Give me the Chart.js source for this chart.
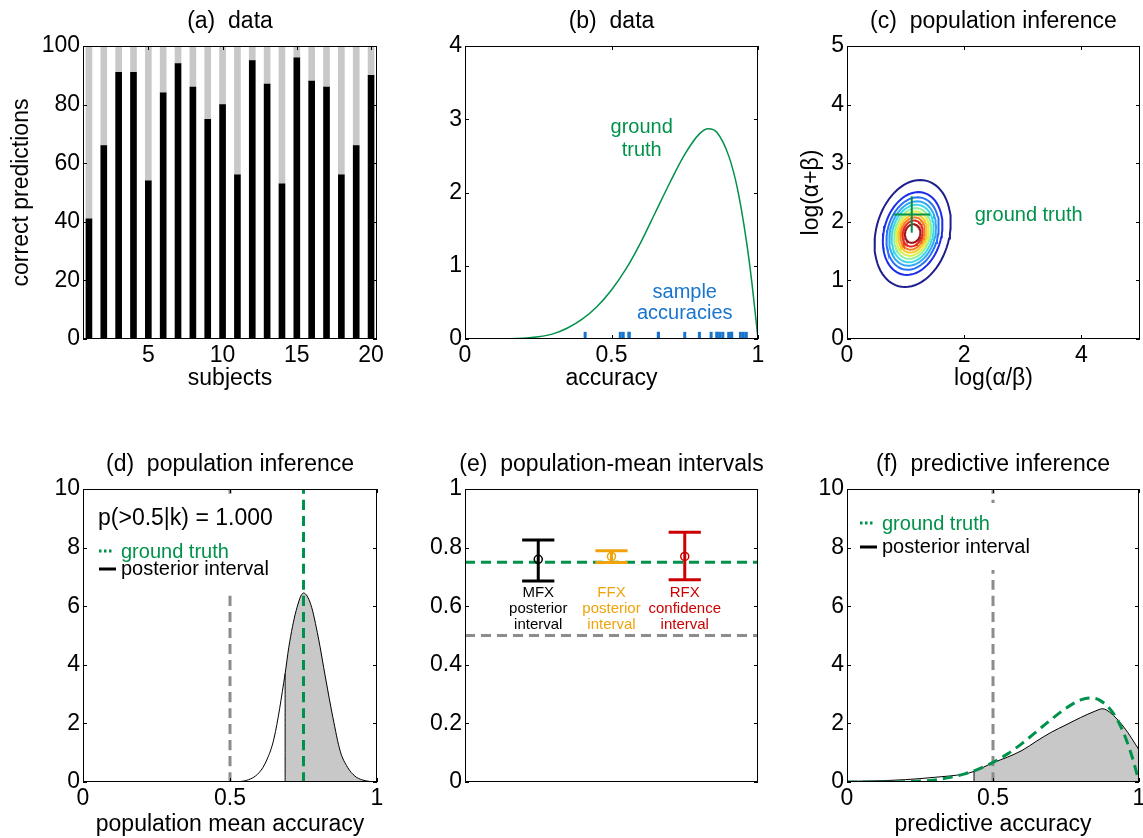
<!DOCTYPE html>
<html>
<head>
<meta charset="utf-8">
<script src="https://cdn.jsdelivr.net/npm/chart.js@4.4.1/dist/chart.umd.min.js"></script>
<style>
  body { margin: 0; background: #fff; }
  .panel { position: absolute; }
</style>
</head>
<body>
<div class="panel" style="left:0;top:0"><canvas id="pa" width="389" height="400"></canvas></div>
<div class="panel" style="left:382px;top:0"><canvas id="pb" width="388" height="400"></canvas></div>
<div class="panel" style="left:764px;top:0"><canvas id="pc" width="379" height="400"></canvas></div>
<div class="panel" style="left:0;top:443px"><canvas id="pd" width="389" height="395"></canvas></div>
<div class="panel" style="left:382px;top:443px"><canvas id="pe" width="388" height="395"></canvas></div>
<div class="panel" style="left:764px;top:443px"><canvas id="pf" width="379" height="395"></canvas></div>
<script>
// ---- data ----
// (a) correct predictions per subject (out of 100 trials)
const subjects = [1, 2, 3, 4, 5, 6, 7, 8, 9, 10, 11, 12, 13, 14, 15, 16, 17, 18, 19, 20];
const correct = [41, 66, 91, 91, 54, 84, 94, 86, 75, 80, 56, 95, 87, 53, 96, 88, 86, 56, 66, 90];
const trials = 100;

// (b) ground-truth density of accuracies
const truthX = [0, 0.1, 0.2, 0.25, 0.3, 0.35, 0.4, 0.45, 0.5, 0.55, 0.6, 0.65, 0.7, 0.75, 0.8, 0.83, 0.86, 0.9, 0.93, 0.96, 0.98, 1];
const truthY = [0, 0, 0.01, 0.03, 0.07, 0.15, 0.27, 0.44, 0.67, 0.96, 1.32, 1.73, 2.14, 2.52, 2.8, 2.87, 2.82, 2.5, 2.05, 1.35, 0.74, 0];

// (c) posterior contours in (log(a/b), log(a+b)) space
const contourCentre = [1.12, 1.8];
const contourTilt = 15; // degrees
const contourRx = [0.625, 0.49, 0.43, 0.385, 0.345, 0.305, 0.27, 0.235, 0.2, 0.165, 0.13];
const contourRy = [0.93, 0.72, 0.63, 0.56, 0.5, 0.44, 0.385, 0.33, 0.28, 0.225, 0.16];
const contourColors = ['#1e1e8c', '#1e2de6', '#2870f5', '#30a8f5', '#3cd8e6', '#8cf0a0', '#dcf04a', '#f5c828', '#f57d1e', '#e6281e', '#a01414'];
const truthPoint = [1.105, 2.125];
const crossHalf = 0.31;

// (d) posterior of the population mean accuracy
const meanX = [0.22, 0.3, 0.4, 0.5, 0.55, 0.6, 0.625, 0.65, 0.6875, 0.7, 0.725, 0.75, 0.775, 0.8, 0.825, 0.85, 0.875, 0.9, 0.925, 0.95, 0.975, 1];
const meanY = [0, 0, 0, 0, 0.04, 0.33, 0.75, 1.5, 3.7, 4.6, 5.85, 6.45, 6.05, 4.95, 3.55, 2.2, 1.05, 0.5, 0.2, 0.07, 0.02, 0];
const meanLower = 0.6875;
const chance = 0.5;
const truthMean = 0.75;

// (e) population-mean intervals
const methodPos = [1, 2, 3];
const methodLabels = [['MFX', 'posterior', 'interval'], ['FFX', 'posterior', 'interval'], ['RFX', 'confidence', 'interval']];
const methodColors = ['#000000', '#f0a30a', '#cc0000'];
const intervalLow = [0.686, 0.749, 0.69];
const intervalHigh = [0.826, 0.789, 0.852];
const intervalMid = [0.76, 0.77, 0.77];

// (f) posterior predictive density
const predX = [0, 0.1, 0.2, 0.3, 0.4, 0.435, 0.5, 0.55, 0.6, 0.65, 0.7, 0.75, 0.8, 0.85, 0.875, 0.9, 0.95, 1];
const predY = [0.02, 0.04, 0.08, 0.16, 0.27, 0.36, 0.66, 0.85, 1.08, 1.4, 1.7, 1.95, 2.2, 2.42, 2.5, 2.38, 1.85, 1.1];
const predLower = 0.435;

// ticks
const ticksA = {x: [5, 10, 15, 20], y: [0, 20, 40, 60, 80, 100]};
const ticksUnit = [0, 0.5, 1];
const ticksB = [0, 1, 2, 3, 4];
const ticksC = {x: [0, 2, 4], y: [0, 1, 2, 3, 4, 5]};
const ticksDens = [0, 2, 4, 6, 8, 10];
const ticksE = [0, 0.2, 0.4, 0.6, 0.8, 1];

// ---- drawing ----
const FONT = '"Liberation Sans", Arial, Helvetica, sans-serif';
const GREEN = '#00914a';
const GREY = '#8c8c8c';
const FILL = '#c8c8c8';
Chart.defaults.font.family = FONT;
Chart.defaults.font.size = 23;
Chart.defaults.color = '#000';
Chart.defaults.animation = false;
Chart.defaults.responsive = false;
Chart.defaults.events = [];
Chart.defaults.plugins.legend.display = false;
Chart.defaults.plugins.tooltip.enabled = false;

const pts = (xs, ys) => xs.map((x, i) => ({x, y: ys[i]}));

function axis(min, max, ticks, size, title, titlePad) {
  const cfg = {
    type: 'linear', min, max, offset: false,
    grid: {display: false, drawTicks: false, offset: false},
    border: {display: false},
    ticks: {display: ticks.length > 0, padding: 3, callback: v => String(v)},
    afterBuildTicks: s => { s.ticks = ticks.map(v => ({value: v})); },
    afterFit: s => {
      if (s.isHorizontal()) s.height = size; else s.width = size;
      s.paddingLeft = s.paddingRight = s.paddingTop = s.paddingBottom = 0;
    }
  };
  if (title) cfg.title = {display: true, text: title, padding: titlePad};
  return cfg;
}

// title, notes, legend, axes box with inward ticks
const panelPlugin = {
  id: 'panel',
  afterDatasetsDraw(chart, args, o) {
    const {ctx, chartArea: a, scales: {x, y}} = chart;
    ctx.save();
    if (o.box) {
      ctx.fillStyle = '#fff';
      ctx.fillRect(a.left + o.box[0], a.top + o.box[1], o.box[2], o.box[3]);
    }
    ctx.textBaseline = 'alphabetic';
    (o.notes || []).forEach(n => {
      ctx.font = n.size + 'px ' + FONT;
      ctx.fillStyle = n.color;
      ctx.textAlign = 'center';
      const px = x.getPixelForValue(n.x), py = y.getPixelForValue(n.y);
      n.lines.forEach((t, i) => ctx.fillText(t, px, py + i * n.lead));
    });
    (o.texts || []).forEach(t => {
      ctx.font = t.size + 'px ' + FONT;
      ctx.fillStyle = t.color;
      ctx.textAlign = 'left';
      ctx.fillText(t.text, a.left + t.x, a.top + t.y);
      if (t.sample) {
        ctx.strokeStyle = t.color;
        ctx.lineWidth = 3;
        ctx.setLineDash(t.sample.dash || []);
        ctx.beginPath();
        ctx.moveTo(a.left + t.sample.x0, a.top + t.sample.y);
        ctx.lineTo(a.left + t.sample.x1, a.top + t.sample.y);
        ctx.stroke();
        ctx.setLineDash([]);
      }
    });
    // box
    ctx.strokeStyle = '#000';
    ctx.lineWidth = 1;
    ctx.strokeRect(a.left + 0.5, a.top + 0.5, a.right - a.left - 1, a.bottom - a.top - 1);
    ctx.beginPath();
    x.ticks.forEach(t => {
      const p = Math.round(x.getPixelForValue(t.value)) + 0.5;
      ctx.moveTo(p, a.bottom); ctx.lineTo(p, a.bottom - 4);
      ctx.moveTo(p, a.top); ctx.lineTo(p, a.top + 4);
    });
    y.ticks.forEach(t => {
      const p = Math.round(y.getPixelForValue(t.value)) + 0.5;
      ctx.moveTo(a.left, p); ctx.lineTo(a.left + 4, p);
      ctx.moveTo(a.right, p); ctx.lineTo(a.right - 4, p);
    });
    ctx.stroke();
    // title
    ctx.font = '23px ' + FONT;
    ctx.fillStyle = '#000';
    ctx.textAlign = 'center';
    ctx.fillText(o.title, (a.left + a.right) / 2, a.top - 18);
    ctx.restore();
  }
};

function makeChart(id, type, datasets, scales, panel, pr) {
  return new Chart(document.getElementById(id), {
    type,
    data: {datasets},
    options: {
      layout: {padding: {left: 0, right: pr, top: 46, bottom: 0}},
      plugins: {panel},
      scales
    },
    plugins: [panelPlugin]
  });
}

function curve(data, color, width, extra) {
  return Object.assign({data, showLine: true, borderColor: color, borderWidth: width,
    pointRadius: 0, cubicInterpolationMode: 'monotone', fill: false}, extra);
}

const legendTexts = (dx, gy, py) => [
  {text: 'ground truth', color: GREEN, size: 20, x: dx + 22, y: gy + 7,
   sample: {x0: dx, x1: dx + 14, y: gy, dash: [2.5, 2.5]}},
  {text: 'posterior interval', color: '#000', size: 20, x: dx + 22, y: py + 6,
   sample: {x0: dx, x1: dx + 17, y: py}}
];

// (a)
makeChart('pa', 'bar', [
  {data: pts(subjects, correct), backgroundColor: '#000', barThickness: 6},
  {data: pts(subjects, correct.map(k => trials - k)), backgroundColor: FILL, barThickness: 6}
], {
  x: Object.assign(axis(0.6, 20.4, ticksA.x, 61, 'subjects', {top: 0, bottom: 8}), {stacked: true}),
  y: Object.assign(axis(0, 100, ticksA.y, 83, 'correct predictions', {top: 8, bottom: 0}), {stacked: true})
}, {title: '(a)  data'}, 12);

// (b)
makeChart('pb', 'scatter', [
  {data: correct.map(k => ({x: k / trials, y: 0.05})), pointStyle: 'line', rotation: 90,
   radius: 3.5, borderWidth: 3, borderColor: '#1874cd'},
  curve(pts(truthX, truthY), GREEN, 1.5)
], {
  x: axis(0, 1, ticksUnit, 61, 'accuracy', {top: 0, bottom: 8}),
  y: axis(0, 4, ticksB, 83)
}, {title: '(b)  data', notes: [
  {x: 0.603, y: 2.81, lines: ['ground', 'truth'], color: GREEN, size: 20, lead: 23},
  {x: 0.75, y: 0.56, lines: ['sample', 'accuracies'], color: '#1874cd', size: 20, lead: 21}
]}, 12);

// (c)
const tilt = contourTilt * Math.PI / 180;
function ellipse(i) {
  const out = [];
  for (let k = 0; k <= 72; k++) {
    const t = 2 * Math.PI * k / 72;
    const ex = contourRx[i] * Math.cos(t), ey = contourRy[i] * Math.sin(t);
    out.push({x: contourCentre[0] + ex * Math.cos(tilt) + ey * Math.sin(tilt),
              y: contourCentre[1] - ex * Math.sin(tilt) + ey * Math.cos(tilt)});
  }
  return out;
}
makeChart('pc', 'scatter', [
  curve([{x: truthPoint[0] - crossHalf, y: truthPoint[1]}, {x: truthPoint[0] + crossHalf, y: truthPoint[1]}], GREEN, 2, {cubicInterpolationMode: 'default'}),
  curve([{x: truthPoint[0], y: truthPoint[1] - crossHalf}, {x: truthPoint[0], y: truthPoint[1] + crossHalf}], GREEN, 2, {cubicInterpolationMode: 'default'}),
  ...contourRx.map((r, i) => curve(ellipse(i), contourColors[i], 2, {cubicInterpolationMode: 'default'})).reverse()
], {
  x: axis(0, 5, ticksC.x, 61, 'log(α/β)', {top: 0, bottom: 8}),
  y: axis(0, 5, ticksC.y, 83, 'log(α+β)', {top: 34, bottom: 0})
}, {title: '(c)  population inference', notes: [
  {x: 3.1, y: 2.01, lines: ['ground truth'], color: GREEN, size: 20, lead: 0}
]}, 3);

// (d)
const meanPts = pts(meanX, meanY);
makeChart('pd', 'scatter', [
  curve([{x: truthMean, y: 0}, {x: truthMean, y: 10}], GREEN, 3, {borderDash: [10, 6]}),
  curve([{x: chance, y: 0}, {x: chance, y: 10}], GREY, 3, {borderDash: [10, 6]}),
  curve([{x: meanLower, y: 0}, {x: meanLower, y: meanY[meanX.indexOf(meanLower)]}], '#000', 1),
  curve(meanPts, '#000', 1),
  curve(meanPts.filter(p => p.x >= meanLower), 'rgba(0,0,0,0)', 1, {fill: 'origin', backgroundColor: FILL})
], {
  x: axis(0, 1, ticksUnit, 56, 'population mean accuracy', {top: 0, bottom: 0}),
  y: axis(0, 10, ticksDens, 83)
}, {title: '(d)  population inference', box: [6, 9, 191, 94],
  texts: [{text: 'p(>0.5|k) = 1.000', color: '#000', size: 23, x: 15, y: 36}, ...legendTexts(16, 62, 80)]
}, 12);

// (e)
const capHalf = 0.22;
const eDatasets = [];
methodPos.forEach((x, i) => {
  const c = methodColors[i];
  eDatasets.push({data: [{x, y: intervalMid[i]}], pointRadius: 4, pointBorderWidth: 1.5,
    pointBorderColor: c, pointBackgroundColor: 'rgba(0,0,0,0)'});
  eDatasets.push(curve([{x, y: intervalLow[i]}, {x, y: intervalHigh[i]}], c, 3));
  eDatasets.push(curve([{x: x - capHalf, y: intervalHigh[i]}, {x: x + capHalf, y: intervalHigh[i]}], c, 3));
  eDatasets.push(curve([{x: x - capHalf, y: intervalLow[i]}, {x: x + capHalf, y: intervalLow[i]}], c, 3));
});
eDatasets.push(curve([{x: 0, y: truthMean}, {x: 4, y: truthMean}], GREEN, 3, {borderDash: [10, 6]}));
eDatasets.push(curve([{x: 0, y: chance}, {x: 4, y: chance}], GREY, 3, {borderDash: [10, 6]}));
makeChart('pe', 'scatter', eDatasets, {
  x: axis(0, 4, [], 56),
  y: axis(0, 1, ticksE, 83)
}, {title: '(e)  population-mean intervals', notes: methodPos.map((x, i) => (
  {x, y: 0.63, lines: methodLabels[i], color: methodColors[i], size: 15, lead: 16}))
}, 12);

// (f)
const predPts = pts(predX, predY);
makeChart('pf', 'scatter', [
  curve(pts(truthX, truthY), GREEN, 3, {borderDash: [10, 6]}),
  curve([{x: chance, y: 0}, {x: chance, y: 10}], GREY, 3, {borderDash: [10, 6]}),
  curve([{x: predLower, y: 0}, {x: predLower, y: predY[predX.indexOf(predLower)]}], '#000', 1),
  curve(predPts, '#000', 1),
  curve(predPts.filter(p => p.x >= predLower), 'rgba(0,0,0,0)', 1, {fill: 'origin', backgroundColor: FILL})
], {
  x: axis(0, 1, ticksUnit, 56, 'predictive accuracy', {top: 0, bottom: 0}),
  y: axis(0, 10, ticksDens, 83)
}, {title: '(f)  predictive inference', box: [9, 14, 184, 67], texts: legendTexts(13, 34, 58)}, 4);
</script>
</body>
</html>
